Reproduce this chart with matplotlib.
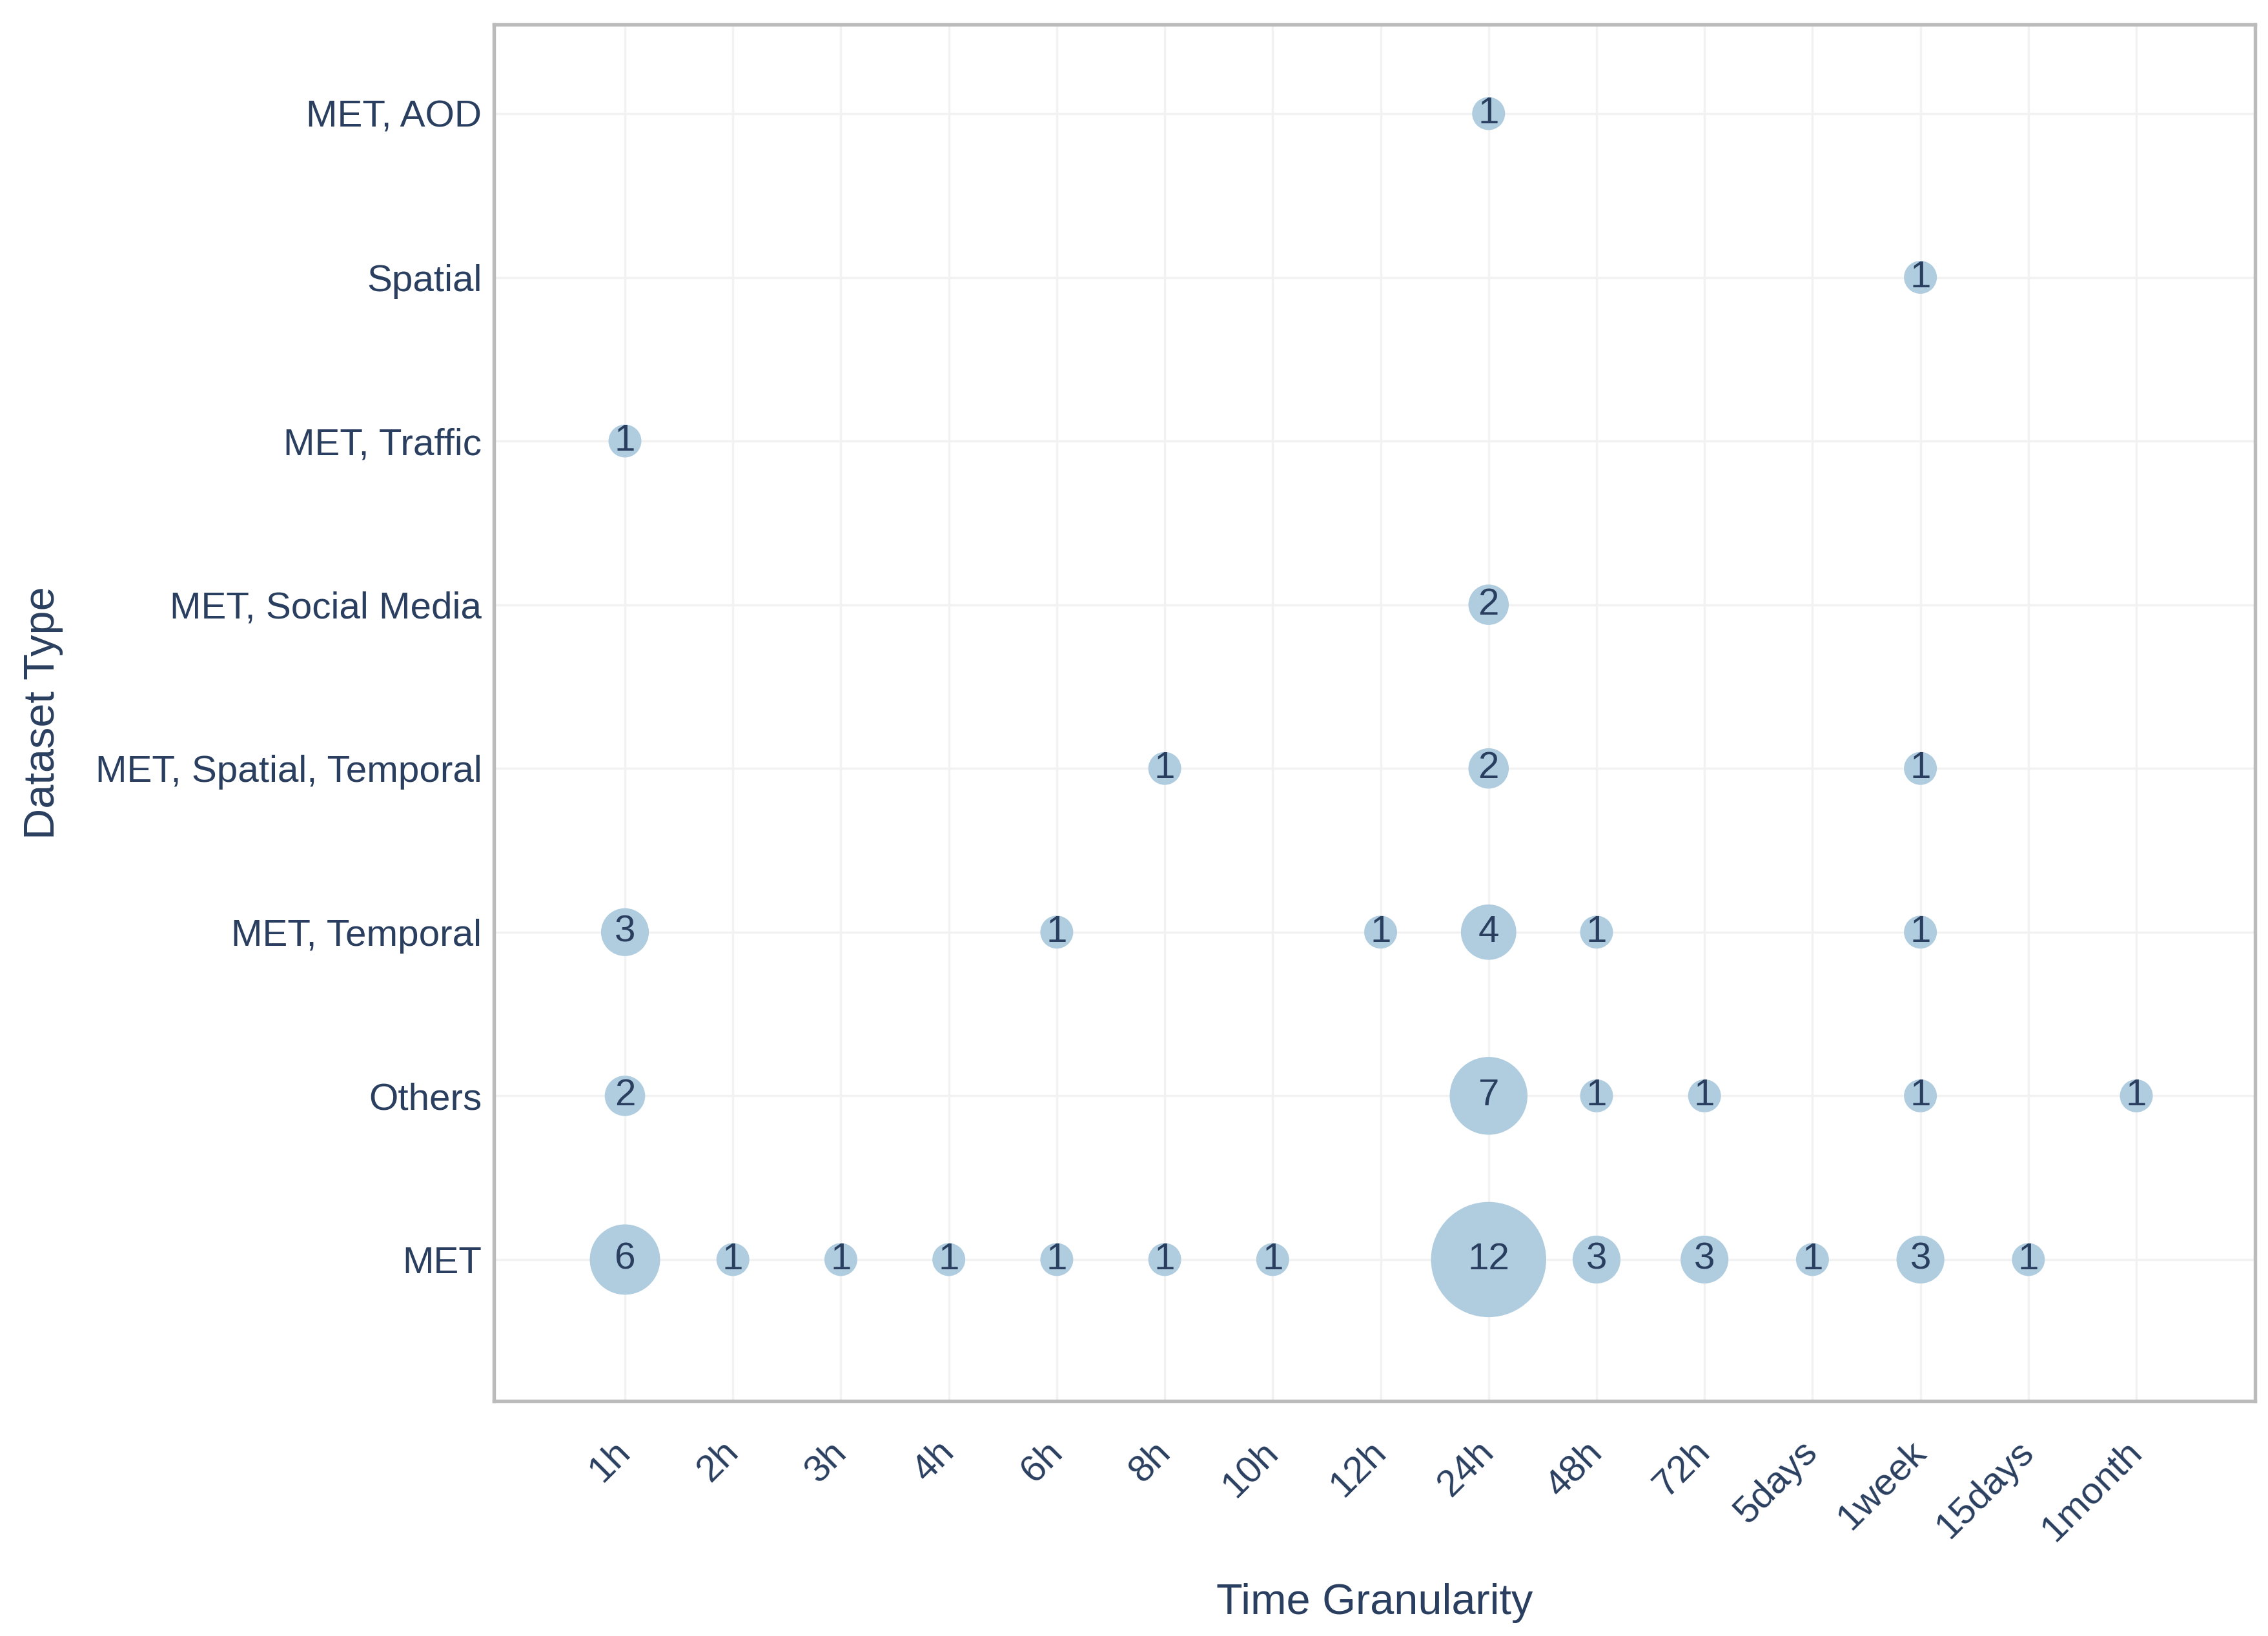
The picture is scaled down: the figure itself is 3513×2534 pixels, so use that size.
import matplotlib
matplotlib.use("Agg")
import matplotlib.pyplot as plt

plt.rcParams['font.family'] = ['Liberation Sans', 'DejaVu Sans']

granularities = ["1h", "2h", "3h", "4h", "6h", "8h", "10h", "12h", "24h",
                 "48h", "72h", "5days", "1week", "15days", "1month"]
datasets = ["MET", "Others", "MET, Temporal", "MET, Spatial, Temporal",
            "MET, Social Media", "MET, Traffic", "Spatial", "MET, AOD"]

# one entry per bubble
pt_dataset = (["MET"] * 13 + ["Others"] * 6 + ["MET, Temporal"] * 6
              + ["MET, Spatial, Temporal"] * 3
              + ["MET, Social Media", "MET, Traffic", "Spatial", "MET, AOD"])
pt_gran = ["1h", "2h", "3h", "4h", "6h", "8h", "10h", "24h", "48h", "72h", "5days", "1week", "15days",
           "1h", "24h", "48h", "72h", "1week", "1month",
           "1h", "6h", "12h", "24h", "48h", "1week",
           "8h", "24h", "1week",
           "24h", "1h", "1week", "24h"]
pt_count = [6, 1, 1, 1, 1, 1, 1, 12, 3, 3, 1, 3, 1,
            2, 7, 1, 1, 1, 1,
            3, 1, 1, 4, 1, 1,
            1, 2, 1,
            2, 1, 1, 1]

txt = '#2a3f5f'
bubble = '#b0cde0'

fig = plt.figure(figsize=(3513 / 300, 2534 / 300), dpi=300)
ax = fig.add_axes([765 / 3513, 1 - 2170 / 2534, (3493 - 765) / 3513, (2170 - 38) / 2534])

xs = [granularities.index(g) for g in pt_gran]
ys = [datasets.index(d) for d in pt_dataset]
diam = [9.46 + 2.78 * c for c in pt_count]
ax.scatter(xs, ys, s=[d ** 2 for d in diam], color=bubble, edgecolors='none', zorder=3)
for x, y, c in zip(xs, ys, pt_count):
    ax.text(x, y, str(c), ha='center', va='center', fontsize=14, color=txt, zorder=4)

ax.set_xticks(range(len(granularities)))
ax.set_xticklabels(granularities, rotation=45, ha='right', va='center', rotation_mode='anchor')
ax.set_yticks(range(len(datasets)))
ax.set_yticklabels(datasets)
ax.set_xlim(-1.214, 15.10)
ax.set_ylim(-0.864, 7.544)

ax.tick_params(axis='both', length=0, labelsize=14, labelcolor=txt)
ax.tick_params(axis='x', pad=17)
ax.tick_params(axis='y', pad=4.5)
ax.grid(True, color='#f2f2f2', linewidth=0.8, zorder=0)
ax.set_axisbelow(True)
for sp in ax.spines.values():
    sp.set_color('#bbbbbb')
    sp.set_linewidth(1.3)

ax.set_xlabel('Time Granularity', fontsize=16, color=txt, labelpad=13)
ax.set_ylabel('Dataset Type', fontsize=16, color=txt, labelpad=12)

fig.savefig('out.png', dpi=300, facecolor='white')
